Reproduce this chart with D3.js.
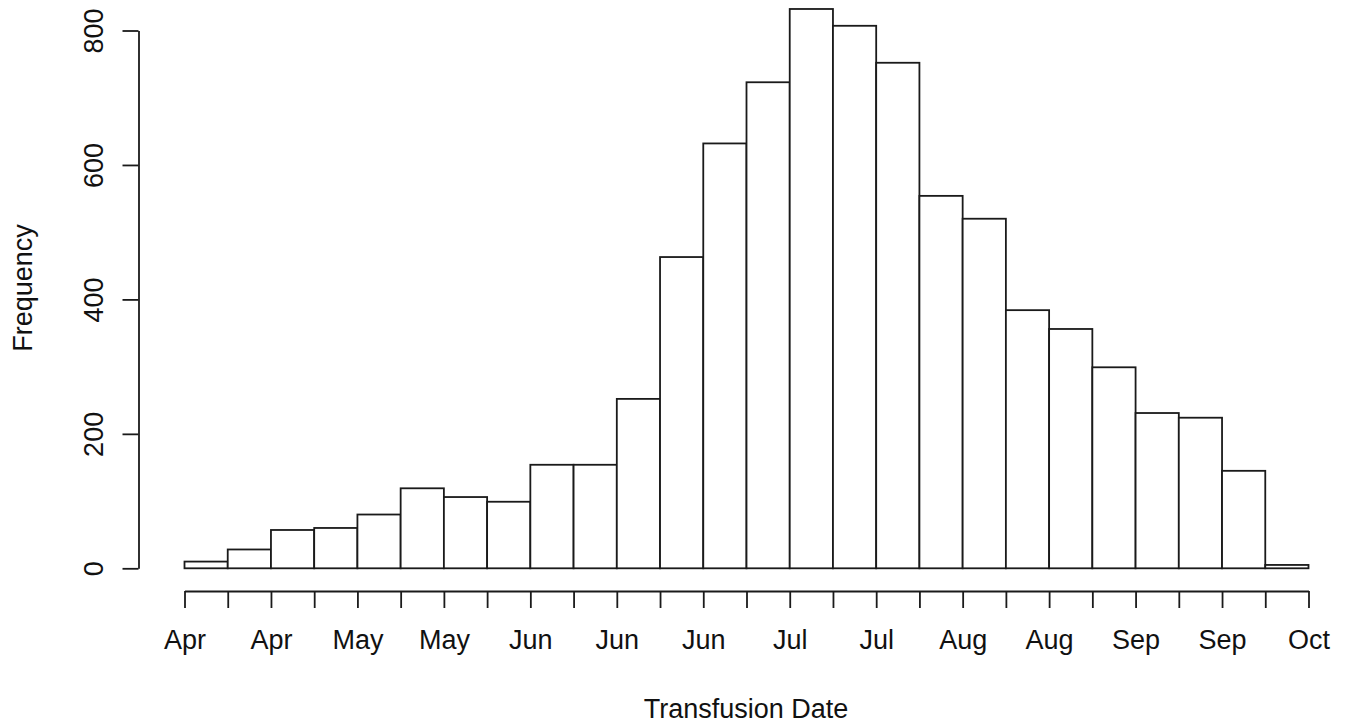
<!DOCTYPE html>
<html>
<head>
<meta charset="utf-8">
<script src="https://cdn.jsdelivr.net/npm/d3@7"></script>
<style>
  html, body { margin: 0; padding: 0; background: #fff; }
  svg { display: block; }
  text { font-family: "Liberation Sans", Arial, sans-serif; fill: #111; }
</style>
</head>
<body>
<svg id="chart" width="1349" height="728"></svg>
<script>
// Histogram counts per bin (26 bins)
const binCounts = [10, 28, 57, 60, 80, 119, 106, 99, 154, 154, 252, 463, 632, 723, 832, 807, 752, 554, 520, 384, 356, 299, 231, 224, 145, 5];
// Labels under bin edges (27 edges, every other edge labelled)
const tickLabels = ["Apr", "", "Apr", "", "May", "", "May", "", "Jun", "", "Jun", "", "Jun", "", "Jul", "", "Jul", "", "Aug", "", "Aug", "", "Sep", "", "Sep", "", "Oct"];
const yTicks = [0, 200, 400, 600, 800];
const xTitle = "Transfusion Date";
const yTitle = "Frequency";

const svg = d3.select("#chart");
const x = d3.scaleLinear().domain([0, binCounts.length]).range([184.5, 1308.5]);
const y = d3.scaleLinear().domain([0, 800]).range([568.3, 30.5]);

const stroke = "#1a1a1a";
const sw = 1.8;
const fontSize = 27;

// Bars
svg.append("g").selectAll("rect")
  .data(binCounts)
  .join("rect")
  .attr("x", (d, i) => x(i))
  .attr("width", (d, i) => x(i + 1) - x(i))
  .attr("y", d => y(d))
  .attr("height", d => y(0) - y(d))
  .attr("fill", "#fff")
  .attr("stroke", stroke)
  .attr("stroke-width", sw);

// X axis
const xAxis = d3.axisBottom(x)
  .tickValues(d3.range(0, binCounts.length + 1))
  .tickFormat((d, i) => tickLabels[i])
  .tickSize(17)
  .tickSizeOuter(0);
const gx = svg.append("g").attr("transform", "translate(0,591)").call(xAxis);
gx.selectAll("path, line").attr("stroke", stroke).attr("stroke-width", sw);
gx.selectAll("text")
  .attr("y", 58).attr("dy", 0)
  .style("font-family", '"Liberation Sans", Arial, sans-serif')
  .style("font-size", fontSize + "px")
  .attr("fill", "#111");

// Y axis
const yAxis = d3.axisLeft(y)
  .tickValues(yTicks)
  .tickSize(16)
  .tickSizeOuter(0);
const gy = svg.append("g").attr("transform", "translate(138.5,0)").call(yAxis);
gy.selectAll("path, line").attr("stroke", stroke).attr("stroke-width", sw);
gy.selectAll("text")
  .attr("transform", "rotate(-90)")
  .attr("x", 0).attr("y", -35.5).attr("dy", 0)
  .attr("text-anchor", "middle")
  .style("font-family", '"Liberation Sans", Arial, sans-serif')
  .style("font-size", fontSize + "px")
  .attr("fill", "#111");

// Titles
svg.append("text")
  .attr("x", 746).attr("y", 718)
  .attr("text-anchor", "middle")
  .style("font-size", fontSize + "px")
  .text(xTitle);

svg.append("text")
  .attr("transform", "translate(32,288) rotate(-90)")
  .attr("text-anchor", "middle")
  .style("font-size", fontSize + "px")
  .text(yTitle);
</script>
</body>
</html>
